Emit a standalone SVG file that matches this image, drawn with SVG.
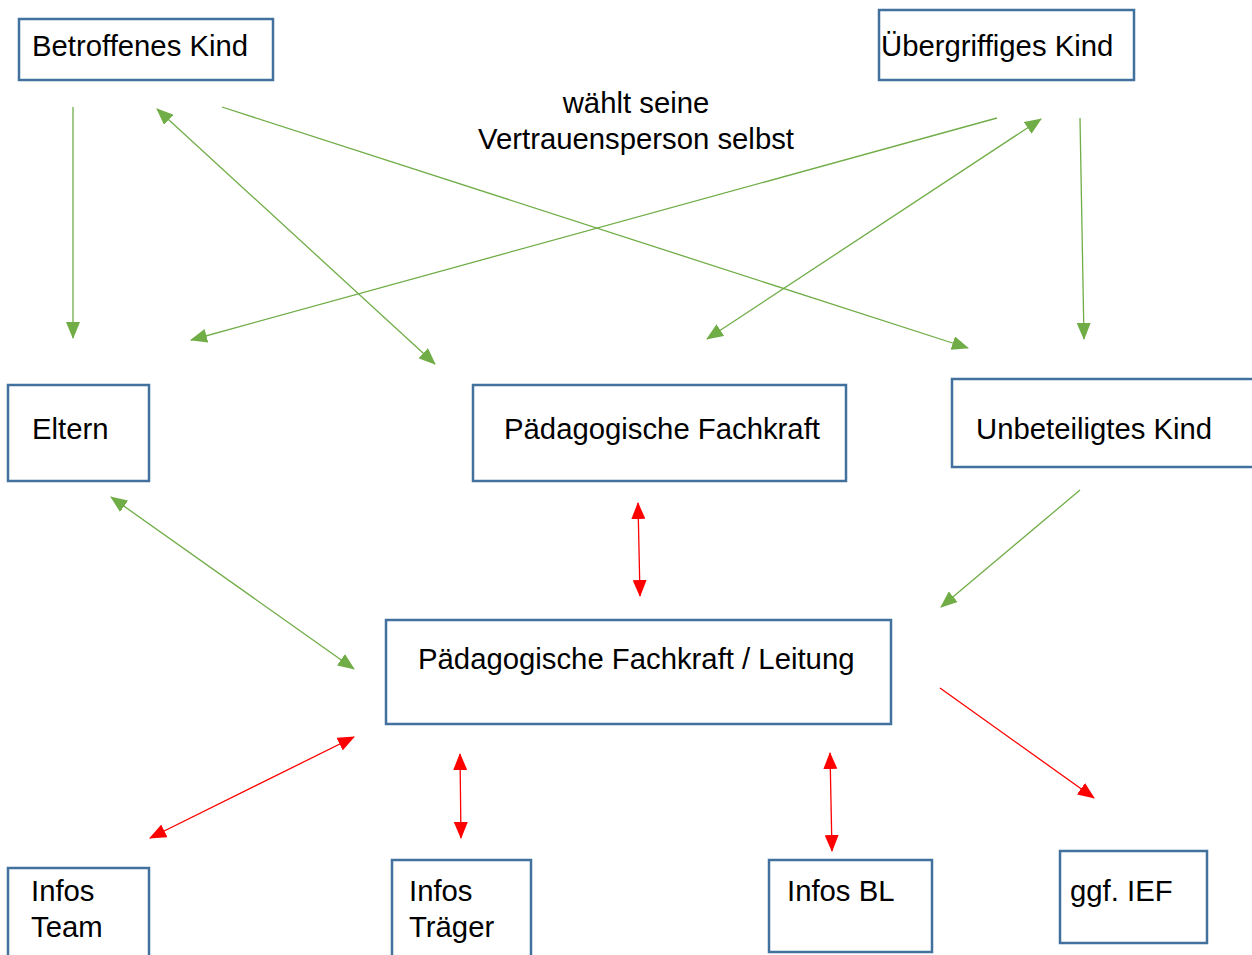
<svg xmlns="http://www.w3.org/2000/svg" width="1252" height="955" viewBox="0 0 1252 955">
<style>
.box{fill:#fff;stroke:#41719C;stroke-width:2.5}
.t{font-family:"Liberation Sans",Arial,sans-serif;font-size:29.3px;fill:#000}
.g{stroke:#70AD47;stroke-width:1.3;fill:none}
.r{stroke:#FF0000;stroke-width:1.3;fill:none}
</style>
<defs>
<marker id="ag" markerUnits="userSpaceOnUse" markerWidth="18" markerHeight="14" refX="16" refY="7" orient="auto-start-reverse" viewBox="0 0 18 14"><path d="M0,0 L17,7 L0,14 Z" fill="#70AD47"/></marker>
<marker id="ar" markerUnits="userSpaceOnUse" markerWidth="18" markerHeight="14" refX="16" refY="7" orient="auto-start-reverse" viewBox="0 0 18 14"><path d="M0,0 L17,7 L0,14 Z" fill="#FF0000"/></marker>
</defs>
<rect width="1252" height="955" fill="#fff"/>
<g id="connectors">
<line class="g" x1="73" y1="107" x2="73" y2="338" marker-end="url(#ag)"/>
<line class="g" x1="222" y1="107" x2="968" y2="348" marker-end="url(#ag)"/>
<line class="g" x1="157" y1="109" x2="435" y2="364" marker-start="url(#ag)" marker-end="url(#ag)"/>
<line class="g" x1="997" y1="118" x2="191" y2="340" marker-end="url(#ag)"/>
<line class="g" x1="1041" y1="119" x2="707" y2="339" marker-start="url(#ag)" marker-end="url(#ag)"/>
<line class="g" x1="1080" y1="118" x2="1084" y2="339" marker-end="url(#ag)"/>
<line class="g" x1="1080" y1="490" x2="941" y2="607" marker-end="url(#ag)"/>
<line class="g" x1="111" y1="497" x2="354" y2="669" marker-start="url(#ag)" marker-end="url(#ag)"/>
<line class="r" x1="638" y1="503" x2="640" y2="596" marker-start="url(#ar)" marker-end="url(#ar)"/>
<line class="r" x1="354" y1="737" x2="150" y2="838" marker-start="url(#ar)" marker-end="url(#ar)"/>
<line class="r" x1="460" y1="754" x2="461" y2="838" marker-start="url(#ar)" marker-end="url(#ar)"/>
<line class="r" x1="830" y1="753" x2="832" y2="851" marker-start="url(#ar)" marker-end="url(#ar)"/>
<line class="r" x1="940" y1="688" x2="1094" y2="798" marker-end="url(#ar)"/>
</g>
<g id="label"><text class="t" text-anchor="middle" x="636" y="113">wählt seine</text><text class="t" text-anchor="middle" x="636" y="149">Vertrauensperson selbst</text></g>
<g id="betroffenes"><rect class="box" x="19" y="19" width="254" height="61"/><text class="t" x="32" y="56">Betroffenes Kind</text></g>
<g id="uebergriffiges"><rect class="box" x="879" y="10" width="255" height="70"/><text class="t" x="881" y="56">Übergriffiges Kind</text></g>
<g id="eltern"><rect class="box" x="8" y="385" width="141" height="96"/><text class="t" x="32" y="439">Eltern</text></g>
<g id="paedfk"><rect class="box" x="473" y="385" width="373" height="96"/><text class="t" x="504" y="439">Pädagogische Fachkraft</text></g>
<g id="unbeteiligtes"><rect class="box" x="952" y="379" width="302" height="88"/><text class="t" x="976" y="439">Unbeteiligtes Kind</text></g>
<g id="leitung"><rect class="box" x="386" y="620" width="505" height="104"/><text class="t" x="418" y="669">Pädagogische Fachkraft / Leitung</text></g>
<g id="team"><rect class="box" x="8" y="868" width="141" height="90"/><text class="t" x="31" y="901">Infos</text><text class="t" x="31" y="937">Team</text></g>
<g id="traeger"><rect class="box" x="392" y="860" width="139" height="98"/><text class="t" x="409" y="901">Infos</text><text class="t" x="409" y="937">Träger</text></g>
<g id="bl"><rect class="box" x="769" y="860" width="163" height="92"/><text class="t" x="787" y="901">Infos BL</text></g>
<g id="ief"><rect class="box" x="1060" y="851" width="147" height="92"/><text class="t" x="1070" y="901">ggf. IEF</text></g>
</svg>
